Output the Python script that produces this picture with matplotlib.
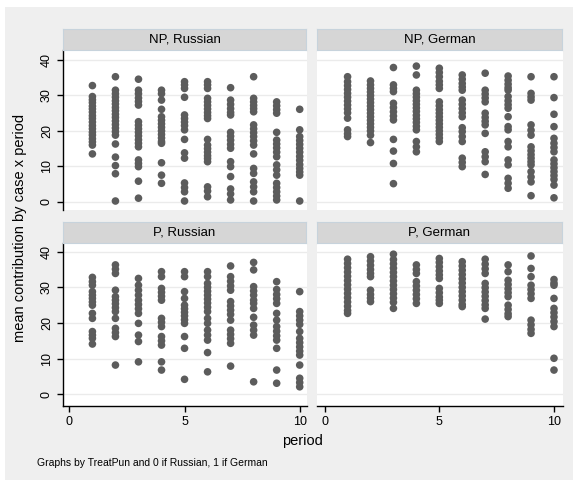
import matplotlib
matplotlib.use("Agg")
import matplotlib.pyplot as plt
from matplotlib.patches import Rectangle

plt.rcParams['font.family'] = ['Liberation Sans', 'DejaVu Sans']

# mean contribution per case, grouped by period (1..10)
periods = list(range(1, 11))

np_russian = [
    [32.8, 29.7, 28.8, 28, 27, 26.2, 25.3, 24.3, 23.5, 22.5, 21.5, 20.6, 19.6, 18.8, 17.8, 16.9, 16, 13.5],
    [35.3, 31.5, 30.5, 29.5, 28.5, 27.6, 26.6, 25.7, 24.7, 23.8, 22.8, 21.8, 20.8, 19.8, 18.8, 16.3, 12.6, 10.2, 7.9, 0.2],
    [34.6, 31.5, 30.5, 29.3, 28.3, 27.3, 22.6, 21.6, 20.6, 19.6, 18.6, 17.5, 16.5, 15.5, 11.8, 10.8, 9.9, 5.8, 1.0],
    [31.5, 30.5, 28.7, 26.1, 24, 23, 22, 21, 20, 19, 18, 17, 16.5, 11, 7.5, 5.2],
    [33.9, 33, 32, 29.5, 24.5, 23.5, 22.5, 21.5, 20.3, 17.6, 13.8, 12.3, 5.3, 4, 2.8, 0.2],
    [33.9, 33, 32, 29.2, 28.2, 27.2, 26.2, 25.2, 24.3, 23.5, 17.6, 16, 15, 14, 13, 12.2, 11.3, 4.2, 3.0, 1.4],
    [32.2, 28.7, 27.5, 26.3, 25.2, 24.5, 19.6, 18.5, 17.4, 16.2, 15.1, 11.3, 9.9, 7.1, 3.6, 2.2, 0.5],
    [35.3, 29.2, 28.2, 27.2, 26.3, 25.4, 21.7, 20.6, 19.5, 18.4, 17.2, 16, 13.5, 9.4, 8.0, 5.6, 4.2, 2.8, 0.2],
    [28.2, 27.1, 26, 25, 19.6, 17.4, 16.3, 15.2, 14, 12.7, 10.4, 9, 7.5, 5.2, 4, 2.8, 1.6, 0.5],
    [26.1, 20.3, 18.4, 17.3, 16.2, 15.1, 14, 12.8, 11.7, 10.5, 9.4, 8.4, 7.5, 0.2],
]

np_german = [
    [35.3, 33.9, 32.8, 31.7, 30.6, 29.5, 28.4, 27.3, 26.2, 25.1, 23.6, 20.3, 19.2, 18.4],
    [34.1, 33, 32, 31, 30, 29, 28, 27, 26, 25, 24, 23, 22, 21, 20, 18.8, 16.7],
    [37.9, 33, 32, 31.1, 27.8, 26.6, 25.4, 24.2, 23.1, 17.6, 14.3, 10.8, 5.1],
    [38.3, 35.8, 31.5, 30.5, 29.5, 28.5, 27.5, 26.5, 25.5, 24.4, 23.4, 22.4, 21.3, 20.3, 17, 15.5, 14.1],
    [37.7, 36.5, 35.3, 34, 33, 32, 28.2, 27.1, 26, 25, 24, 23, 22, 21, 20, 19, 18, 17],
    [35.8, 34.6, 33.4, 32.4, 31.5, 28.7, 27.5, 26.3, 25.1, 24, 20.9, 19.8, 18.4, 17, 12.3, 11.1, 9.9],
    [36.3, 31.5, 30.4, 29.3, 28.2, 25, 23.8, 22.7, 21.7, 19.3, 14.1, 12.7, 11.3, 7.7],
    [35.5, 34.3, 33.2, 32.2, 31.5, 29.7, 28.5, 27.4, 26.4, 24, 21.2, 20.3, 17, 15.5, 11.8, 10.4, 6.6, 5.2, 3.8],
    [35.3, 30.6, 29.6, 28.7, 21.7, 20.2, 18.8, 15.5, 14.4, 13.3, 12.3, 11.3, 10.4, 8.5, 7, 5.6, 1.7],
    [35.3, 29.4, 24.7, 21.2, 17.9, 16.5, 15.3, 14.1, 11.8, 10.7, 9.6, 8.5, 7.4, 6.3, 4.7, 1.1],
]

p_russian = [
    [32.8, 31.6, 30.6, 28.8, 27.8, 26.9, 25.9, 25, 22.7, 21.3, 17.6, 16.6, 15.7, 14.1],
    [36.3, 35.1, 33.9, 29.2, 27.4, 26.4, 25.4, 24.3, 23.2, 21.3, 18.5, 17.3, 16.2, 8.2],
    [32.5, 30.6, 29.2, 27.8, 26.4, 25.2, 24, 22.7, 19.9, 16.6, 14.8, 9.1],
    [34.4, 33, 29.7, 28.6, 27.5, 26.4, 21.3, 20.2, 19, 16.2, 15, 13.8, 9.1, 6.8],
    [34.4, 33, 28.8, 26.9, 25, 24, 23, 22, 20.9, 19.9, 16.2, 12.9, 4.2],
    [34.4, 33, 31.1, 30, 28.9, 27.8, 26.7, 25.6, 24.4, 23.2, 21.3, 19.9, 18, 16.6, 15.2, 11.7, 6.3],
    [36, 33, 31.7, 30.4, 29.2, 26, 24.8, 23.6, 22.4, 20.8, 18, 16.8, 15.6, 14.3, 7.9],
    [37, 34.9, 30.2, 29, 27.8, 26.4, 25.5, 24.1, 21.6, 19.4, 18, 16.6, 3.5],
    [31.6, 29.4, 28, 26.8, 25.5, 22.7, 20.8, 19, 17.7, 16.4, 15.2, 12.9, 6.8, 3.1],
    [28.8, 23.2, 22, 20.8, 19.6, 17.6, 15.7, 14.5, 13.3, 12.1, 11, 8.2, 4.5, 3.3, 2.1],
]

p_german = [
    [37.9, 36.7, 35.5, 34.3, 33.1, 31.9, 30.7, 29.5, 28.3, 27.1, 25.9, 24.7, 23.5, 22.7],
    [38.6, 37.4, 36.2, 35, 33.9, 33, 29.2, 28, 27, 26],
    [39.3, 37.8, 36.6, 35.4, 34.2, 33, 31.8, 30.6, 29.4, 28.2, 27, 25.8, 24.1],
    [36.3, 35, 33.9, 31.6, 30.4, 29.2, 28, 26.8, 25.5],
    [38.1, 37, 35.8, 34.6, 33.5, 32.5, 29.7, 28.5, 27.3, 26.4, 25.5],
    [37.2, 36, 34.8, 33.6, 32.4, 31.2, 30, 28.8, 27.6, 26.4, 25.2, 24.6],
    [37.9, 36.5, 35.2, 33.9, 31.1, 29.9, 28.7, 27.5, 26.3, 25.1, 24.1, 21.1],
    [36.3, 34.4, 32, 30.8, 29.6, 28.5, 27.4, 25, 23.8, 22.6, 21.8],
    [38.8, 35.3, 33, 30.6, 29.4, 28.2, 26.9, 20.8, 19.5, 18.2, 17.1],
    [32.2, 31.2, 30.6, 26.9, 24.1, 22.9, 21.7, 20.4, 19, 10.1, 6.8],
]

titles = ["NP, Russian", "NP, German", "P, Russian", "P, German"]
panels = [np_russian, np_german, p_russian, p_german]

W, H = 579, 486
fig = plt.figure(figsize=(W / 100, H / 100), dpi=100, facecolor='white')

# light gray graph region behind the panels
fig.patches.append(Rectangle((5 / W, 1 - 480 / H), 568 / W, 473 / H,
                             transform=fig.transFigure, facecolor='#efefef',
                             edgecolor='none', zorder=-10))

def box(x0, y0, x1, y1):
    return [x0 / W, 1 - y1 / H, (x1 - x0) / W, (y1 - y0) / H]

cols = [(62.7, 307.3), (317.3, 562.7)]
rows = [(50, 210), (243.3, 405.8)]
strips = [(29, 50), (222.3, 243.3)]
ylims = [(-2.34, 42.85), (-3.23, 42.36)]
xlims = [(-0.29, 10.33), (-0.32, 10.38)]

dot = '#5c5c5c'

for i, (data, title) in enumerate(zip(panels, titles)):
    r, c = divmod(i, 2)
    x0, x1 = cols[c]
    y0, y1 = rows[r]
    ax = fig.add_axes(box(x0, y0, x1, y1))
    ax.set_facecolor('white')
    for p, vals in zip(periods, data):
        ax.scatter([p] * len(vals), vals, s=30, color=dot, edgecolors='none', zorder=3)
    ax.set_xlim(*xlims[c])
    ax.set_ylim(*ylims[r])
    ax.set_yticks([0, 10, 20, 30, 40])
    ax.set_xticks([0, 5, 10])
    ax.grid(axis='y', color='#ebebeb', linewidth=1.0, zorder=0)
    ax.set_axisbelow(True)
    for s in ax.spines.values():
        s.set_visible(False)
    ax.tick_params(labelsize=9, length=4, width=1, color='black')

    if c == 0:
        ax.spines['left'].set_visible(True)
        ax.spines['left'].set_linewidth(1)
        for lbl in ax.get_yticklabels():
            lbl.set_rotation(90)
            lbl.set_va('center')
        ax.tick_params(axis='y', pad=3)
    else:
        ax.tick_params(axis='y', left=False, labelleft=False)

    if r == 1:
        ax.spines['bottom'].set_visible(True)
        ax.spines['bottom'].set_linewidth(1)
        ax.tick_params(axis='x', pad=3)
    else:
        ax.tick_params(axis='x', bottom=False, labelbottom=False)

    # panel header strip
    sy0, sy1 = strips[r]
    sax = fig.add_axes(box(x0, sy0, x1 - 1, sy1))
    sax.set_facecolor('#d6d6d6')
    sax.set_xticks([])
    sax.set_yticks([])
    for s in sax.spines.values():
        s.set_color('#c7d3dc')
        s.set_linewidth(0.8)
    sax.text(0.5, 0.5, title, ha='center', va='center', fontsize=9.5, transform=sax.transAxes)

fig.text(20 / W, 1 - 228 / H, "mean contribution by case x period", rotation=90,
         ha='center', va='center', fontsize=10.5)
fig.text(302 / W, 1 - 441 / H, "period", ha='center', va='center', fontsize=10.5)
fig.text(37 / W, 1 - 463 / H, "Graphs by TreatPun and 0 if Russian, 1 if German",
         ha='left', va='center', fontsize=7.5)

plt.savefig('out.png', dpi=100, facecolor='white')
